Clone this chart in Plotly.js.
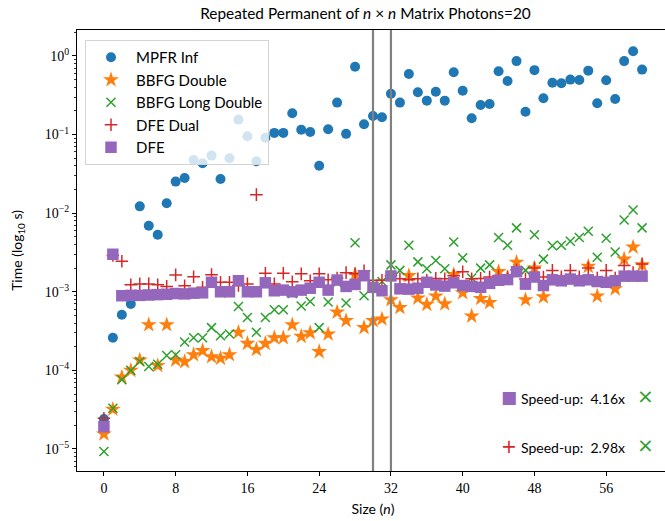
<!DOCTYPE html>
<html>
<head>
<meta charset="utf-8">
<script src="https://cdn.plot.ly/plotly-3.0.1.min.js"></script>
<style>html,body{margin:0;padding:0;overflow:hidden;background:#fff}#chart{width:680px;height:521px}</style>
</head>
<body>
<div id="chart"></div>
<script>
const sizes = [0,1,2,3,4,5,6,7,8,9,10,11,12,13,14,15,16,17,18,19,20,21,22,23,24,25,26,27,28,29,30,31,32,33,34,35,36,37,38,39,40,41,42,43,44,45,46,47,48,49,50,51,52,53,54,55,56,57,58,59,60];

const mpfrInf = [2.4e-5,2.6e-4,5.1e-4,7.0e-4,0.0122,0.0069,0.0053,0.0134,0.0252,0.028,
  0.0475,0.0431,0.054,0.0272,0.050,0.155,0.095,0.0457,0.091,0.105,
  0.105,0.187,0.115,0.108,0.040,0.117,0.255,0.102,0.73,0.135,
  0.172,0.166,0.33,0.255,0.59,0.345,0.27,0.35,0.27,0.62,
  0.36,0.161,0.238,0.245,0.64,0.48,0.86,0.195,0.66,0.29,
  0.457,0.45,0.50,0.495,0.65,0.25,0.49,0.284,0.86,1.15,
  0.67];

const bbfgDouble = [1.55e-5,3.2e-5,8.2e-5,1.0e-4,1.35e-4,3.8e-4,1.15e-4,3.8e-4,1.35e-4,1.29e-4,
  1.58e-4,1.78e-4,1.49e-4,1.42e-4,1.58e-4,3.05e-4,2.2e-4,1.84e-4,2.2e-4,2.6e-4,
  2.6e-4,3.8e-4,2.7e-4,3.0e-4,1.73e-4,2.9e-4,5.5e-4,4.3e-4,1.65e-3,3.5e-4,
  4.3e-4,4.5e-4,7.9e-4,6.3e-4,1.6e-3,8.3e-4,6.9e-4,8.8e-4,7.0e-4,1.65e-3,
  9.7e-4,4.9e-4,8.2e-4,7.3e-4,1.8e-3,1.5e-3,2.37e-3,7.9e-4,2.0e-3,8.6e-4,
  1.45e-3,1.4e-3,1.5e-3,1.4e-3,2.1e-3,8.8e-4,1.35e-3,1.09e-3,2.6e-3,3.7e-3,
  2.2e-3];

const bbfgLongDouble = [9.3e-6,3.3e-5,7.6e-5,1.0e-4,1.3e-4,1.12e-4,1.2e-4,1.55e-4,1.58e-4,2.3e-4,
  2.6e-4,2.6e-4,3.5e-4,2.75e-4,2.9e-4,6.5e-4,4.7e-4,3.05e-4,4.7e-4,5.9e-4,
  5.9e-4,9.5e-4,6.6e-4,7.5e-4,3.5e-4,7.4e-4,1.3e-3,7.2e-4,4.2e-3,8.9e-4,
  1.2e-3,1.35e-3,2.2e-3,1.87e-3,3.9e-3,2.4e-3,1.96e-3,2.5e-3,1.96e-3,4.3e-3,
  2.7e-3,1.5e-3,2.0e-3,2.2e-3,4.9e-3,3.9e-3,6.5e-3,1.87e-3,5.3e-3,2.6e-3,
  3.85e-3,3.9e-3,4.4e-3,4.9e-3,5.9e-3,2.75e-3,4.8e-3,3.2e-3,8.2e-3,0.011,
  6.5e-3];

const dfeDual = [2.46e-5,2.9e-3,2.45e-3,1.23e-3,1.26e-3,1.26e-3,1.23e-3,1.17e-3,1.64e-3,1.19e-3,
  1.55e-3,1.14e-3,1.65e-3,1.32e-3,1.32e-3,1.2e-3,1.26e-3,0.0172,1.72e-3,1.26e-3,
  1.72e-3,1.34e-3,1.69e-3,1.38e-3,1.69e-3,1.42e-3,1.5e-3,1.75e-3,1.69e-3,1.85e-3,
  1.4e-3,1.4e-3,1.6e-3,1.46e-3,1.42e-3,1.46e-3,1.4e-3,1.48e-3,1.46e-3,1.6e-3,
  1.8e-3,1.46e-3,1.48e-3,1.54e-3,1.6e-3,1.55e-3,1.9e-3,1.45e-3,2.0e-3,1.54e-3,
  1.87e-3,1.55e-3,1.87e-3,1.55e-3,2.0e-3,1.5e-3,1.87e-3,1.5e-3,2.16e-3,1.75e-3,
  2.26e-3];

const dfe = [1.92e-5,3.0e-3,8.9e-4,9.0e-4,9.0e-4,9.1e-4,9.2e-4,9.3e-4,9.5e-4,9.4e-4,
  9.6e-4,9.7e-4,1.32e-3,1.0e-3,1.0e-3,1.38e-3,1.0e-3,1.0e-3,1.30e-3,1.03e-3,
  1.05e-3,1.0e-3,1.05e-3,1.11e-3,1.32e-3,1.05e-3,1.41e-3,1.17e-3,1.24e-3,1.60e-3,
  1.14e-3,1.03e-3,1.59e-3,1.09e-3,1.08e-3,1.11e-3,1.32e-3,1.22e-3,1.18e-3,1.30e-3,
  1.2e-3,1.17e-3,1.14e-3,1.28e-3,1.40e-3,1.43e-3,1.80e-3,1.25e-3,1.54e-3,1.2e-3,
  1.42e-3,1.38e-3,1.45e-3,1.38e-3,1.42e-3,1.35e-3,1.32e-3,1.38e-3,1.58e-3,1.58e-3,
  1.58e-3];

const seriesNames = ['MPFR Inf','BBFG Double','BBFG Long Double','DFE Dual','DFE'];
const xTicks = [0,8,16,24,32,40,48,56];
const yTicks = [1e-5,1e-4,1e-3,1e-2,1e-1,1];
const yTickText = ['10<sup>\u22125</sup>','10<sup>\u22124</sup>','10<sup>\u22123</sup>','10<sup>\u22122</sup>','10<sup>\u22121</sup>','10<sup>0</sup>'];
const minorTicks = [];
[1e-6,1e-5,1e-4,1e-3,1e-2,1e-1,1].forEach(d => { [2,3,4,5,6,7,8,9].forEach(m => minorTicks.push(m*d)); });
const vlines = [30, 32];
const speedups = ['Speed-up:  4.16x', 'Speed-up:  2.98x'];

const C = {blue:'#1f77b4', orange:'#ff7f0e', green:'#2ca02c', red:'#d62728', purple:'#9467bd'};
const sans = 'Lato, "DejaVu Sans", sans-serif';
const serif = '"Liberation Serif", "DejaVu Serif", serif';

const traces = [
  {x:sizes, y:mpfrInf, name:seriesNames[0], legendgroup:'a', mode:'markers', type:'scatter',
   marker:{symbol:'circle', size:10, color:C.blue}},
  {x:sizes, y:bbfgDouble, name:seriesNames[1], legendgroup:'b', mode:'markers', type:'scatter',
   marker:{symbol:'star', size:12, color:C.orange, line:{width:0}}},
  {x:sizes, y:bbfgLongDouble, name:seriesNames[2], legendgroup:'c', mode:'markers', type:'scatter',
   marker:{symbol:'x-thin', size:9, color:C.green, line:{width:1.5, color:C.green}}},
  {x:sizes, y:dfeDual, name:seriesNames[3], legendgroup:'d', mode:'markers', type:'scatter',
   marker:{symbol:'cross-thin', size:9, color:C.red, line:{width:1.5, color:C.red}}},
  {x:sizes, y:dfe, name:seriesNames[4], legendgroup:'e', mode:'markers', type:'scatter',
   marker:{symbol:'square', size:11.5, color:C.purple}}
];

const W = 680, H = 521, L = 77, R = 11, T = 30, B = 50;
const pw = W - L - R, ph = H - T - B;
const px = v => (v - L) / pw;
const py = v => 1 - (v - T) / ph;

const annotations = [
  {text:'\u25A0', x:px(509), y:py(397), xanchor:'center', yanchor:'middle', font:{size:17, color:C.purple, family:'"DejaVu Sans"'}},
  {text:speedups[0], x:px(519), y:py(398), xanchor:'left', yanchor:'middle', font:{size:14, color:'#000', family:sans}},
  {text:'\u00D7', x:px(645), y:py(396), xanchor:'center', yanchor:'middle', font:{size:20, color:C.green, family:'"DejaVu Sans"'}},
  {text:'+', x:px(509), y:py(446), xanchor:'center', yanchor:'middle', font:{size:19, color:C.red, family:'"DejaVu Sans"'}},
  {text:speedups[1], x:px(519), y:py(447), xanchor:'left', yanchor:'middle', font:{size:14, color:'#000', family:sans}},
  {text:'\u00D7', x:px(645), y:py(445), xanchor:'center', yanchor:'middle', font:{size:20, color:C.green, family:'"DejaVu Sans"'}}
].map(a => Object.assign({xref:'paper', yref:'paper', showarrow:false}, a));

const shapes = vlines.map(v => ({type:'line', xref:'x', yref:'paper', x0:v, x1:v, y0:0, y1:1,
  line:{color:'#808080', width:2.2}, layer:'above'}));

const layout = {
  width:W, height:H,
  margin:{l:L, r:R, t:T, b:B, pad:0},
  paper_bgcolor:'#fff', plot_bgcolor:'#fff',
  showlegend:true,
  title:{text:'Repeated Permanent of <i>n</i> \u00D7 <i>n</i> Matrix Photons=20',
    font:{family:sans, size:15.4, color:'#000'}, xref:'paper', x:px(365.5), xanchor:'center',
    yref:'container', y:1 - 14/H, yanchor:'middle'},
  xaxis:{range:[-3,63], tickvals:xTicks, ticktext:xTicks.map(String), ticks:'outside', ticklen:4, tickwidth:1, tickcolor:'#000',
    showline:true, linecolor:'#000', linewidth:1.1, mirror:true, showgrid:false, zeroline:false,
    tickfont:{family:serif, size:14, color:'#000'},
    title:{text:'Size (<i>n</i>)', font:{family:sans, size:14, color:'#000'}, standoff:9}},
  yaxis:{type:'log', range:[-5.28, 0.33], tickmode:'array', tickvals:yTicks, ticktext:yTickText, ticks:'outside', ticklen:4, tickwidth:1, tickcolor:'#000',
    minor:{tickmode:'array', tickvals:minorTicks, ticks:'outside', ticklen:2.2, tickwidth:0.8, tickcolor:'#000', showgrid:false},
    showline:true, linecolor:'#000', linewidth:1.1, mirror:true, showgrid:false, zeroline:false,
    tickfont:{family:serif, size:14, color:'#000'},
    title:{text:'Time (log<sub>10</sub> s)', font:{family:sans, size:14, color:'#000'}, standoff:18}},
  legend:{x:px(85), y:py(40), xanchor:'left', yanchor:'top', bgcolor:'rgba(255,255,255,0.8)',
    bordercolor:'#d3d3d3', borderwidth:1, font:{family:sans, size:15, color:'#000'},
    tracegroupgap:5, itemwidth:40, traceorder:'normal'},
  annotations:annotations,
  shapes:shapes
};

Plotly.newPlot('chart', traces, layout, {displayModeBar:false, staticPlot:true});
</script>
</body>
</html>
